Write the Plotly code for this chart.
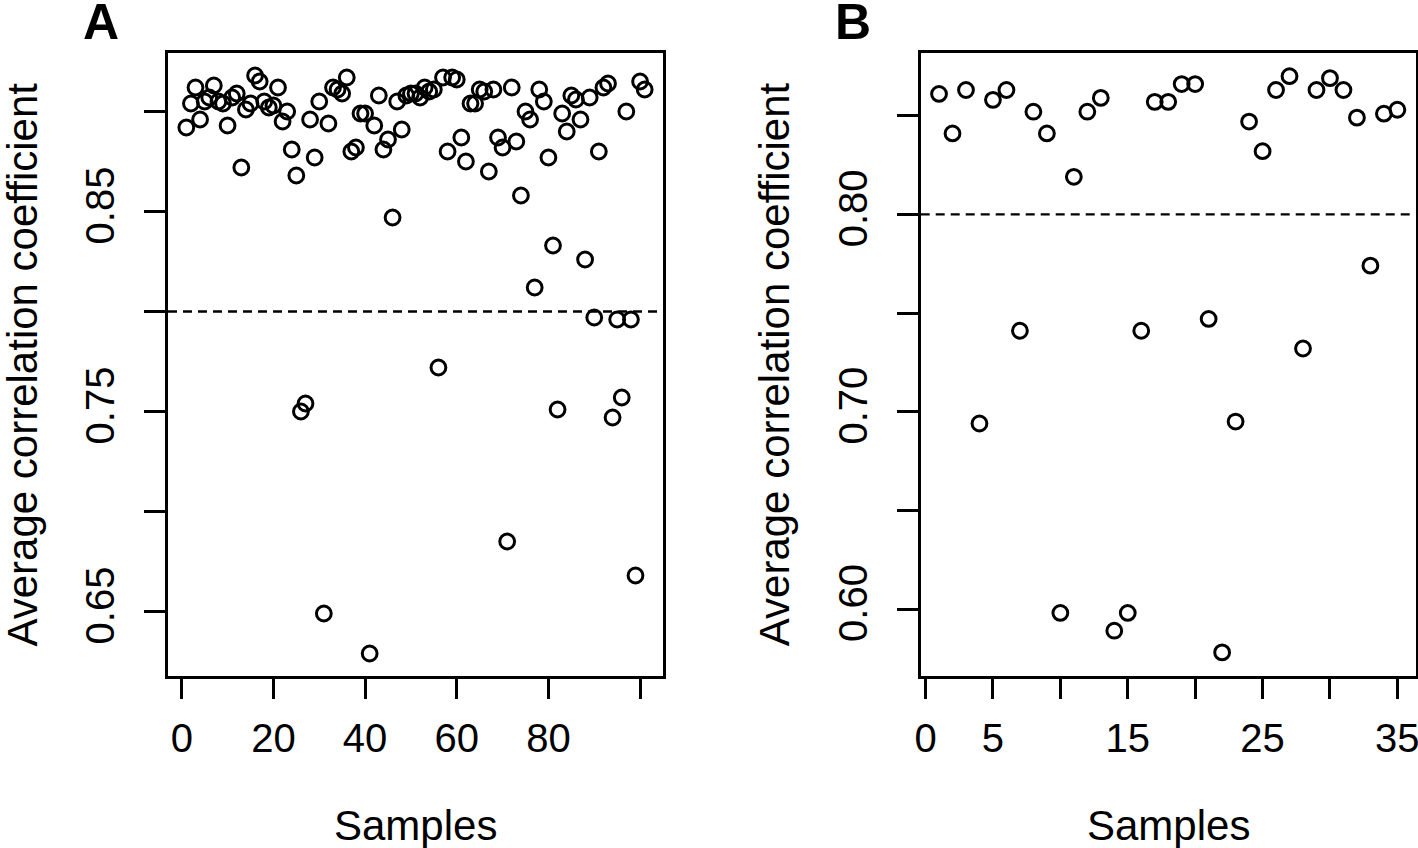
import plotly.graph_objects as go

# ---- data ----
corr_a = [0.892, 0.904, 0.912, 0.896, 0.905, 0.907, 0.913, 0.905, 0.904, 0.893,
          0.907, 0.909, 0.872, 0.901, 0.904, 0.918, 0.915, 0.905, 0.902, 0.903,
          0.912, 0.895, 0.900, 0.881, 0.868, 0.750, 0.754, 0.896, 0.877, 0.905,
          0.649, 0.894, 0.912, 0.911, 0.909, 0.917, 0.880, 0.882, 0.899, 0.899,
          0.629, 0.893, 0.908, 0.881, 0.886, 0.847, 0.905, 0.891, 0.908, 0.909,
          0.909, 0.907, 0.912, 0.910, 0.911, 0.772, 0.917, 0.880, 0.917, 0.916,
          0.887, 0.875, 0.904, 0.904, 0.911, 0.910, 0.870, 0.911, 0.887, 0.882,
          0.685, 0.912, 0.885, 0.858, 0.900, 0.896, 0.812, 0.911, 0.905, 0.877,
          0.833, 0.751, 0.899, 0.890, 0.908, 0.906, 0.896, 0.826, 0.907, 0.797,
          0.880, 0.912, 0.914, 0.747, 0.796, 0.757, 0.900, 0.796, 0.668, 0.915,
          0.911]
corr_b = [0.861, 0.841, 0.863, 0.694, 0.858, 0.863, 0.741, 0.852, 0.841, 0.598,
          0.819, 0.852, 0.859, 0.589, 0.598, 0.741, 0.857, 0.857, 0.866, 0.866,
          0.747, 0.578, 0.695, 0.847, 0.832, 0.863, 0.870, 0.732, 0.863, 0.869,
          0.863, 0.849, 0.774, 0.851, 0.853]
samples_a = list(range(1, len(corr_a) + 1))
samples_b = list(range(1, len(corr_b) + 1))
threshold = 0.80

x_ticks_a = [0, 20, 40, 60, 80, 100]
x_ticklabels_a = ["0", "20", "40", "60", "80", ""]
y_ticks_a = [0.65, 0.70, 0.75, 0.80, 0.85, 0.90]
y_ticklabels_a = ["0.65", "", "0.75", "", "0.85", ""]
x_ticks_b = [0, 5, 10, 15, 20, 25, 30, 35]
x_ticklabels_b = ["0", "5", "", "15", "", "25", "", "35"]
y_ticks_b = [0.60, 0.65, 0.70, 0.75, 0.80, 0.85]
y_ticklabels_b = ["0.60", "", "0.70", "", "0.80", ""]

W, H = 1418, 848


def px(x):
    return x / W


def py(y):
    return 1 - y / H


FONT = "Liberation Sans, Arial, Helvetica, sans-serif"

fig = go.Figure()
marker = dict(symbol="circle", size=14.8, color="rgba(0,0,0,0)",
              line=dict(color="black", width=3))
fig.add_trace(go.Scatter(x=samples_a, y=corr_a, mode="markers", marker=marker,
                         xaxis="x", yaxis="y", showlegend=False, hoverinfo="skip"))
fig.add_trace(go.Scatter(x=samples_b, y=corr_b, mode="markers", marker=marker,
                         xaxis="x2", yaxis="y2", showlegend=False, hoverinfo="skip"))

for xr, yr in (("x domain", "y"), ("x2 domain", "y2")):
    fig.add_shape(type="line", xref=xr, yref=yr, x0=0, x1=1, y0=threshold, y1=threshold,
                  line=dict(color="black", width=2.3, dash="9px,6px"))

axis_common = dict(showline=True, linecolor="black", linewidth=2.5, mirror=True,
                   ticks="outside", ticklen=21, tickwidth=2.5, tickcolor="black",
                   showgrid=False, zeroline=False, automargin=False,
                   ticklabeloverflow="allow",
                   tickfont=dict(family=FONT, size=40, color="black"))

ydom = [py(675.7), py(53.3)]
fig.update_layout(
    width=W, height=H, margin=dict(l=0, r=0, t=0, b=0),
    paper_bgcolor="white", plot_bgcolor="white",
    xaxis=dict(domain=[px(168), px(663)], range=[-3, 105], tickmode="array",
               tickvals=x_ticks_a, ticktext=x_ticklabels_a, anchor="y",
               ticklabelstandoff=5, **axis_common),
    yaxis=dict(domain=ydom, range=[0.6179, 0.9291], tickmode="array",
               tickvals=y_ticks_a, ticktext=y_ticklabels_a, tickangle=-90, anchor="x",
               ticklabelstandoff=14, **axis_common),
    xaxis2=dict(domain=[px(920.7), px(1415.7)], range=[-0.36, 36.36], tickmode="array",
                tickvals=x_ticks_b, ticktext=x_ticklabels_b, anchor="y2",
                ticklabelstandoff=5, **axis_common),
    yaxis2=dict(domain=ydom, range=[0.5662, 0.8816], tickmode="array",
                tickvals=y_ticks_b, ticktext=y_ticklabels_b, tickangle=-90, anchor="x2",
                ticklabelstandoff=14, **axis_common),
)

ann_font = dict(family=FONT, size=42, color="black")
letter_font = dict(family=FONT, size=50, color="black")
annotations = [
    dict(text="<b>A</b>", x=px(101), y=py(22), font=letter_font),
    dict(text="<b>B</b>", x=px(853), y=py(22), font=letter_font),
    dict(text="Average correlation coefficient", x=px(22), y=py(364.5), textangle=-90, font=ann_font),
    dict(text="Average correlation coefficient", x=px(774.7), y=py(364.5), textangle=-90, font=ann_font),
    dict(text="Samples", x=px(415.5), y=py(825), font=ann_font),
    dict(text="Samples", x=px(1168.2), y=py(825), font=ann_font),
]
for a in annotations:
    a.update(xref="paper", yref="paper", showarrow=False, xanchor="center", yanchor="middle")
fig.update_layout(annotations=annotations)

# remove the browser's default 8px body margin so the figure fills the window
fig.write_html("out.html", config={"displayModeBar": False},
               post_script="document.body.style.margin='0';document.body.style.overflow='hidden';")
